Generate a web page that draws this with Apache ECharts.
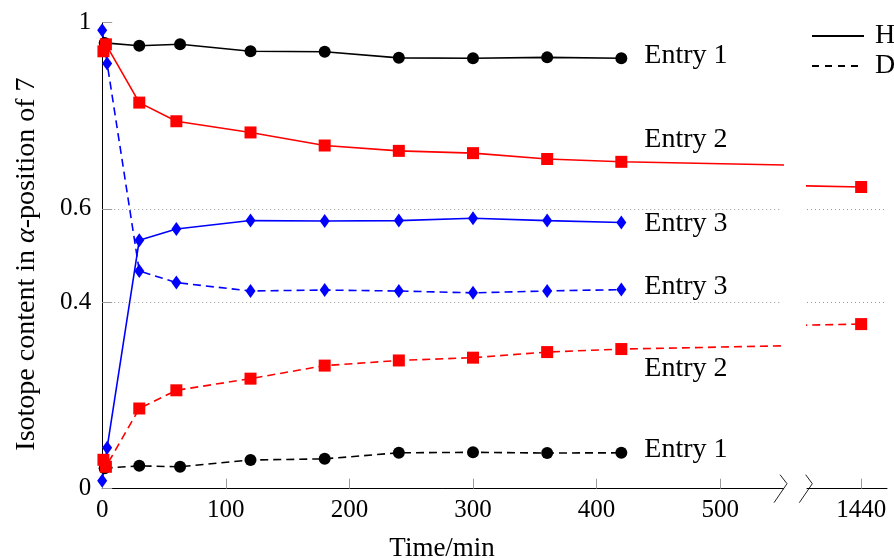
<!DOCTYPE html>
<html><head><meta charset="utf-8">
<script src="https://cdn.jsdelivr.net/npm/echarts@6/dist/echarts.min.js"></script>
<style>html,body{margin:0;padding:0;background:#fff}#c{width:894px;height:558px}</style>
</head><body><div id="c"></div>
<script>
// ---- data ----
const blackTimes = [2, 30, 63, 120, 180, 240, 300, 360, 420];
const blackH = [0.956, 0.950, 0.953, 0.938, 0.937, 0.924, 0.923, 0.925, 0.923];
const blackD = [0.044, 0.049, 0.047, 0.0615, 0.064, 0.077, 0.078, 0.0765, 0.077];
const redTimes = [1, 3, 30, 60, 120, 180, 240, 300, 360, 420, 1440];
const redH = [0.938, 0.953, 0.828, 0.788, 0.764, 0.736, 0.7245, 0.7196, 0.707, 0.701, 0.647];
const redD = [0.062, 0.047, 0.172, 0.211, 0.236, 0.264, 0.275, 0.281, 0.293, 0.2995, 0.353];
const blueTimes = [0, 4, 30, 60, 120, 180, 240, 300, 360, 420];
const blueH = [0.017, 0.088, 0.533, 0.557, 0.575, 0.574, 0.575, 0.580, 0.575, 0.571];
const blueD = [0.983, 0.912, 0.467, 0.442, 0.424, 0.426, 0.424, 0.420, 0.424, 0.427];
const xTicksLeft = [0, 100, 200, 300, 400, 500];
const xTicksRight = [1440];
const yTicks = [0, 0.4, 0.6, 1];
const yGrid = [0.4, 0.6];
const labelTime = 420;

// ---- styling ----
const FONT = 'Liberation Serif';
const DASH = [8, 5];
const TOP = 22.4, HEIGHT = 466.3;
const chart = echarts.init(document.getElementById('c'), null, {renderer: 'canvas'});

function buildData(times, vals, text, dist, dy) {
  return times.map((t, i) => {
    if (text && t === labelTime) {
      return {value: [t, vals[i]], label: {show: true, formatter: text, position: 'right', distance: dist, offset: [0, dy]}};
    }
    return [t, vals[i]];
  });
}
const entryLabel = {fontFamily: FONT, fontSize: 28, color: '#000'};

function mk(name, times, vals, color, dashed, symbol, size, grid, text, dist, dy, extra) {
  return Object.assign({
    name: name, type: 'line', xAxisIndex: grid, yAxisIndex: grid,
    data: buildData(times, vals, text, dist, dy),
    symbol: symbol, symbolSize: size, showSymbol: true, clip: true,
    lineStyle: {color: color, width: 1.6, type: dashed ? DASH : 'solid'},
    itemStyle: {color: color},
    label: Object.assign({show: false}, entryLabel),
    emphasis: {disabled: true},
    z: 3
  }, extra || {});
}
const gridMark = {
  silent: true, symbol: 'none', animation: false,
  label: {show: false},
  lineStyle: {color: '#9a9a9a', width: 1, type: [1, 3]},
  emphasis: {disabled: true},
  data: yGrid.map(v => ({yAxis: v}))
};

const series = [
  mk('BH', blackTimes, blackH, '#000', false, 'circle', 12, 0, 'Entry 1', 17, -3, {markLine: gridMark}),
  mk('BD', blackTimes, blackD, '#000', true, 'circle', 12, 0, 'Entry 1', 17, -3),
  mk('RH', redTimes, redH, '#ff0000', false, 'rect', 12, 0, 'Entry 2', 17, -22),
  mk('RD', redTimes, redD, '#ff0000', true, 'rect', 12, 0, 'Entry 2', 17, 20),
  mk('LH', blueTimes, blueH, '#0000ff', false, 'diamond', [10, 14], 0, 'Entry 3', 18, 1),
  mk('LD', blueTimes, blueD, '#0000ff', true, 'diamond', [10, 14], 0, 'Entry 3', 18, -3),
  mk('RH2', redTimes, redH, '#ff0000', false, 'rect', 12, 1, null, 0, 0, {markLine: gridMark}),
  mk('RD2', redTimes, redD, '#ff0000', true, 'rect', 12, 1, null, 0, 0),
  {name: 'H', type: 'line', data: [], symbol: 'none', xAxisIndex: 0, yAxisIndex: 0,
   lineStyle: {color: '#000', width: 1.6, type: 'solid'}, itemStyle: {color: '#000'}},
  {name: 'D', type: 'line', data: [], symbol: 'none', xAxisIndex: 0, yAxisIndex: 0,
   lineStyle: {color: '#000', width: 1.6, type: [7, 6]}, itemStyle: {color: '#000'}}
];

const axisLine = {show: true, onZero: false, lineStyle: {color: '#000', width: 1}};
const tickStyle = {color: '#9a9a9a', width: 1};
const labelStyle = {fontFamily: FONT, fontSize: 25, color: '#000'};

const option = {
  animation: false,
  backgroundColor: '#fff',
  textStyle: {fontFamily: FONT},
  grid: [
    {left: 102.2, top: TOP, width: 679.8, height: HEIGHT, containLabel: false, outerBoundsMode: 'none'},
    {left: 807, top: TOP, width: 80, height: HEIGHT, containLabel: false, outerBoundsMode: 'none'}
  ],
  legend: {
    data: ['H', 'D'], orient: 'vertical', left: 806, top: 17,
    itemWidth: 52, itemHeight: 14, itemGap: 2,
    selectedMode: false,
    itemStyle: {opacity: 0},
    textStyle: {fontFamily: FONT, fontSize: 28, color: '#000', lineHeight: 28, padding: [0, 0, 0, 6]}
  },
  xAxis: [
    {type: 'value', gridIndex: 0, min: 0, max: 550,
     name: 'Time/min', nameLocation: 'middle', nameGap: 47,
     nameTextStyle: {fontFamily: FONT, fontSize: 27, color: '#000'},
     axisLine: axisLine,
     axisTick: {show: true, inside: true, length: 10, lineStyle: tickStyle, customValues: xTicksLeft},
     axisLabel: Object.assign({margin: 9, customValues: xTicksLeft, formatter: v => String(v)}, labelStyle),
     splitLine: {show: false}},
    {type: 'value', gridIndex: 1, min: 1396, max: 1461,
     axisLine: axisLine,
     axisTick: {show: true, inside: true, length: 10, lineStyle: tickStyle, customValues: xTicksRight},
     axisLabel: Object.assign({margin: 9, customValues: xTicksRight, formatter: v => String(v)}, labelStyle),
     splitLine: {show: false}}
  ],
  yAxis: [
    {type: 'value', gridIndex: 0, min: 0, max: 1,
     name: '{a|Isotope content in }{i|α}{a|-position of 7}',
     nameLocation: 'middle', nameGap: 62,
     nameTextStyle: {fontFamily: FONT, fontSize: 28, color: '#000', padding: [0, 17, 0, 0],
       rich: {a: {fontFamily: FONT, fontSize: 28, color: '#000'},
              i: {fontFamily: FONT, fontSize: 28, fontStyle: 'italic', color: '#000'}}},
     axisLine: axisLine,
     axisTick: {show: true, inside: true, length: 10, lineStyle: tickStyle, customValues: yTicks},
     axisLabel: Object.assign({margin: 11, customValues: yTicks, formatter: v => String(v)}, labelStyle),
     splitLine: {show: false}},
    {type: 'value', gridIndex: 1, min: 0, max: 1, show: false, splitLine: {show: false}}
  ],
  series: series
};
chart.setOption(option);

// axis-break marks drawn at the gap between the two grids
const yAx = TOP + HEIGHT;
const r0 = 102.2 + 679.8;
chart.setOption({
  graphic: [
    {type: 'polyline', shape: {points: [[r0 - 2, yAx - 14], [r0 + 5, yAx - 5], [r0 - 8, yAx + 14]]},
     style: {stroke: '#222', lineWidth: 1, fill: null}, silent: true},
    {type: 'line', shape: {x1: r0, y1: yAx, x2: r0 + 2, y2: yAx}, style: {stroke: '#000', lineWidth: 1}, silent: true},
    {type: 'polyline', shape: {points: [[805.7, yAx - 14], [812.3, yAx - 5], [799.3, yAx + 14]]},
     style: {stroke: '#222', lineWidth: 1, fill: null}, silent: true}
  ]
});
</script></body></html>
